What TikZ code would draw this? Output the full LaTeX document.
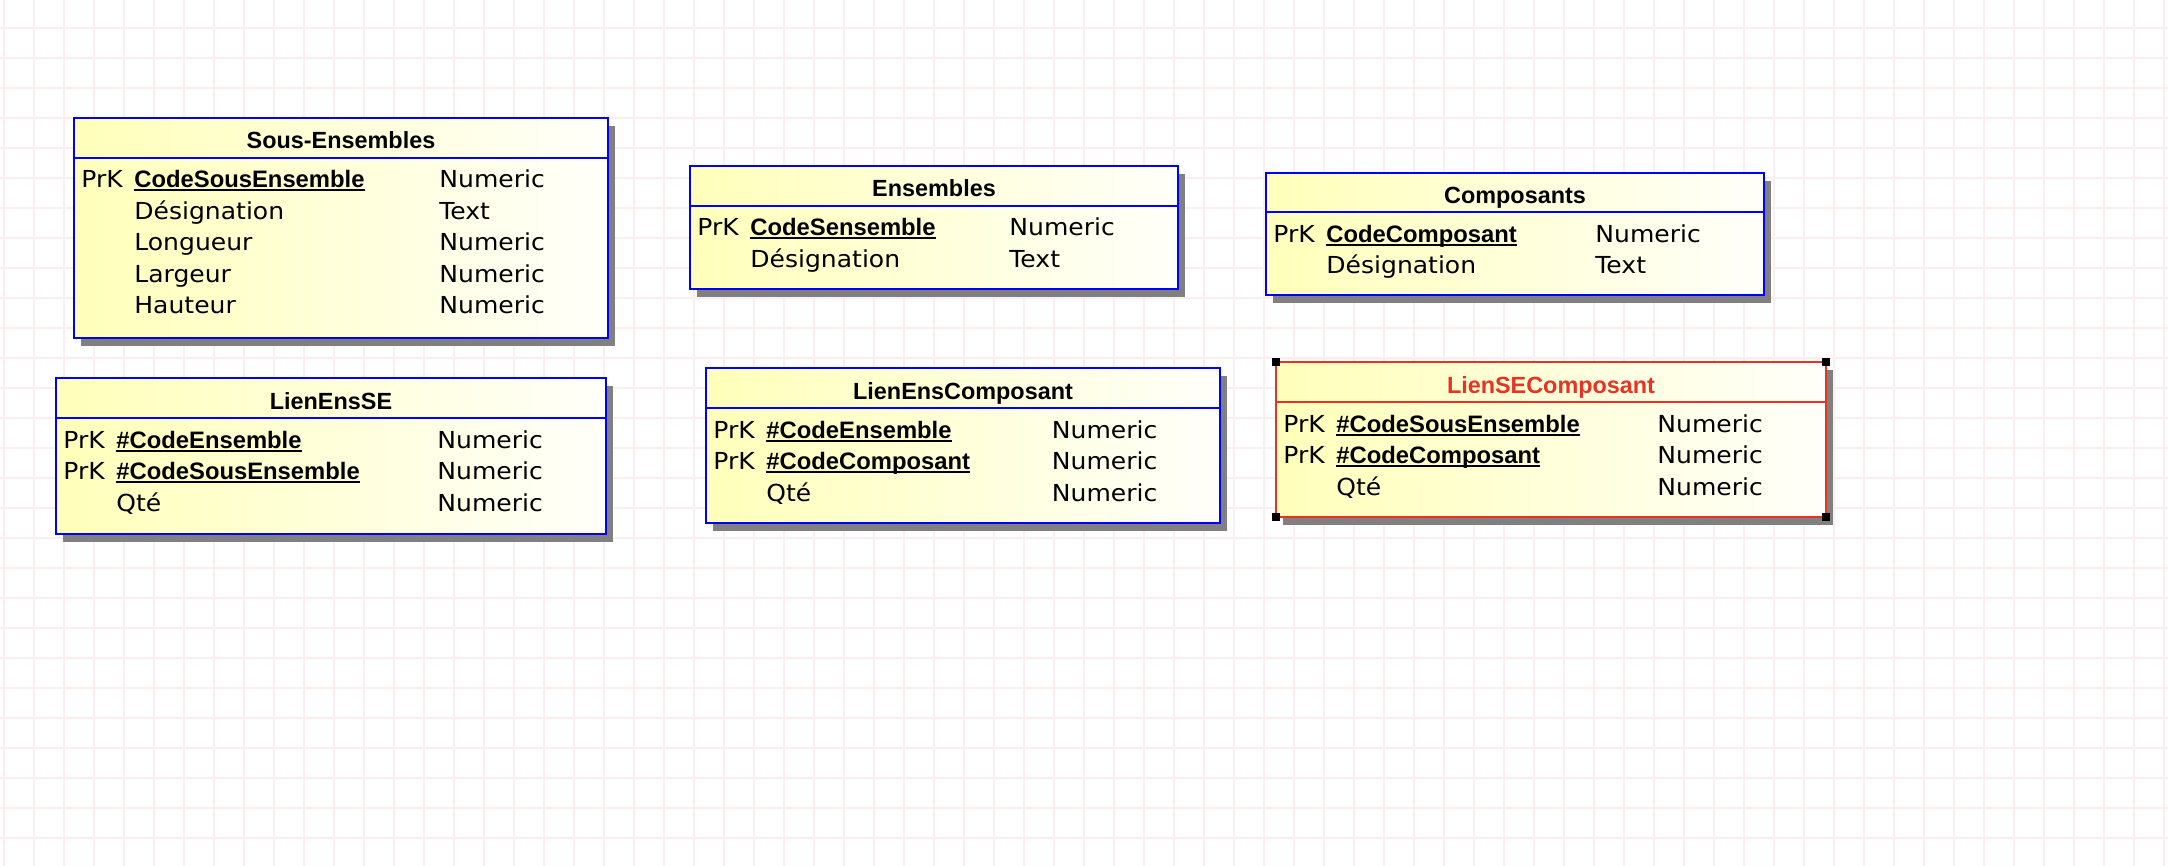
\documentclass[tikz,border=0pt]{standalone}
\usepackage{fontspec}
\newfontfamily\bodyfont{DejaVu Sans}[FakeStretch=1.07]
\newfontfamily\headfont{Liberation Sans}
\usetikzlibrary{shadows}
\definecolor{gridc}{RGB}{252,238,238}
\definecolor{ylw}{RGB}{255,255,186}
\definecolor{wht}{RGB}{255,255,250}
\definecolor{shgray}{RGB}{128,128,128}
\definecolor{erblue}{RGB}{0,0,255}
\definecolor{erred}{RGB}{232,50,36}
\tikzset{
  tablebox/.style={rectangle, inner sep=0pt, outer sep=0pt, line width=1pt,
    left color=ylw, right color=wht,
    drop shadow={shadow xshift=3.5pt, shadow yshift=-4pt, fill=shgray, opacity=1}},
  bodytext/.style={anchor=base west, inner sep=0pt, font=\bodyfont\fontsize{11.7}{13}\selectfont},
  keytext/.style={anchor=base west, inner sep=0pt, font=\headfont\bfseries\fontsize{11.9}{13}\selectfont},
  titletext/.style={anchor=base, inner sep=0pt, font=\headfont\bfseries\fontsize{11.7}{13}\selectfont},
  underl/.style={line width=1pt},
  sepline/.style={line width=1pt},
  gridline/.style={draw=gridc, line width=0.7pt},
  handle/.style={fill=black},
}
% #1 name, #2 L, #3 T, #4 R, #5 B, #6 separator y, #7 colour, #8 title, #9 title colour
\newcommand\ertable[9]{%
  \node[tablebox, draw=#7, minimum width={(#4-#2)*0.5pt}, minimum height={(#5-#3)*0.5pt}, anchor=north west] (#1) at (#2,#3) {};
  \draw[sepline, #7] (#2,#6) -- (#4,#6);
  \node[titletext, text=#9] (#1-title) at ({(#2+#4)/2},#6-9) {#8};
}
% #1 id, #2 L, #3 baseline y, #4 type offset, #5 field, #6 type
\newcommand\keyrow[6]{%
  \node[bodytext] (#1-k) at (#2+7,#3) {PrK};
  \node[keytext] (#1-f) at (#2+60,#3) {#5};
  \draw[underl] ([yshift=-1.4pt]#1-f.base west) -- ([yshift=-1.4pt]#1-f.base east);
  \node[bodytext] (#1-t) at (#2+#4,#3) {#6};
}
\newcommand\plainrow[6]{%
  \node[bodytext] (#1-f) at (#2+60,#3) {#5};
  \node[bodytext] (#1-t) at (#2+#4,#3) {#6};
}
\begin{document}
\begin{tikzpicture}[x=0.5pt,y=-0.5pt]
\fill[white] (0,0) rectangle (2168,866);
\useasboundingbox (0,0) rectangle (2168,866);
\foreach \x in {4,34,...,2164} \draw[gridline] (\x,0) -- (\x,866);
\foreach \y in {28,58,...,860} \draw[gridline] (0,\y) -- (2168,\y);

% Sous-Ensembles
\ertable{se}{74}{118.5}{608}{337.5}{157.7}{erblue}{Sous-Ensembles}{black}
\keyrow{se1}{74}{187.7}{365}{CodeSousEnsemble}{Numeric}
\plainrow{se2}{74}{219.2}{365}{Désignation}{Text}
\plainrow{se3}{74}{250.7}{365}{Longueur}{Numeric}
\plainrow{se4}{74}{282.2}{365}{Largeur}{Numeric}
\plainrow{se5}{74}{313.7}{365}{Hauteur}{Numeric}

% Ensembles
\ertable{ens}{690}{166}{1178}{289.3}{205.7}{erblue}{Ensembles}{black}
\keyrow{ens1}{690}{235.7}{319}{CodeSensemble}{Numeric}
\plainrow{ens2}{690}{267.2}{319}{Désignation}{Text}

% Composants
\ertable{comp}{1266}{173}{1764}{295.5}{212.3}{erblue}{Composants}{black}
\keyrow{comp1}{1266}{242.3}{329}{CodeComposant}{Numeric}
\plainrow{comp2}{1266}{273.8}{329}{Désignation}{Text}

% LienEnsSE
\ertable{lese}{56}{378}{606}{533.5}{418}{erblue}{LienEnsSE}{black}
\keyrow{lese1}{56}{448}{381}{\#CodeEnsemble}{Numeric}
\keyrow{lese2}{56}{479.5}{381}{\#CodeSousEnsemble}{Numeric}
\plainrow{lese3}{56}{511}{381}{Qté}{Numeric}

% LienEnsComposant
\ertable{lec}{706}{368.3}{1220}{523.3}{408}{erblue}{LienEnsComposant}{black}
\keyrow{lec1}{706}{438}{345.5}{\#CodeEnsemble}{Numeric}
\keyrow{lec2}{706}{469.5}{345.5}{\#CodeComposant}{Numeric}
\plainrow{lec3}{706}{501}{345.5}{Qté}{Numeric}

% LienSEComposant (selected)
\ertable{lsc}{1276}{362.3}{1826}{517.3}{402}{erred}{LienSEComposant}{erred}
\keyrow{lsc1}{1276}{432}{381}{\#CodeSousEnsemble}{Numeric}
\keyrow{lsc2}{1276}{463.5}{381}{\#CodeComposant}{Numeric}
\plainrow{lsc3}{1276}{495}{381}{Qté}{Numeric}
\foreach \c in {north west,north east,south west,south east}
  \fill[handle] (lsc.\c) ++(-4,-4) rectangle ++(8,8);
\end{tikzpicture}
\end{document}
